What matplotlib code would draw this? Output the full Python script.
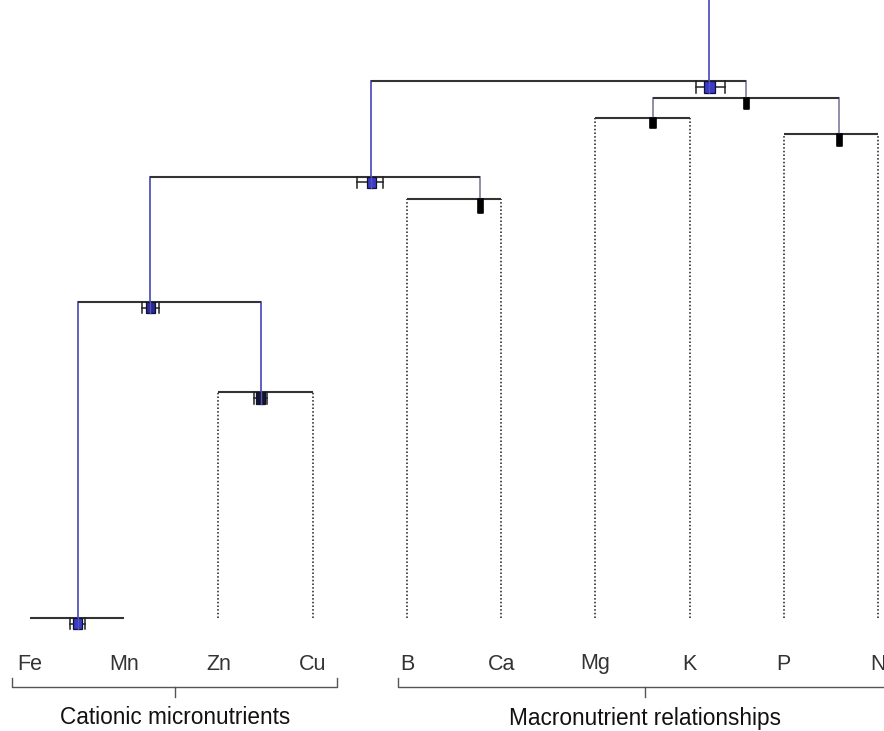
import numpy as np
import matplotlib
matplotlib.use("Agg")
import matplotlib.pyplot as plt
from matplotlib.patches import Rectangle

plt.rcParams["font.family"] = ["Liberation Sans", "DejaVu Sans"]

# Leaves of the nutrient dendrogram (left to right)
leaves = ["Fe", "Mn", "Zn", "Cu", "B", "Ca", "Mg", "K", "P", "N"]

# Merge table: children (leaf name or node id) and merge height
merge_left = ["Fe", "Zn", "n0", "B", "n2", "Mg", "P", "n5", "n4"]
merge_right = ["Mn", "Cu", "n1", "Ca", "n3", "K", "N", "n6", "n7"]
merge_height = [0.00, 2.26, 3.16, 4.19, 4.41, 5.00, 4.84, 5.20, 5.37]

# Resampled node position summaries (leaf-index units)
node_whislo = [0.425, 2.377, 1.189, 4.750, 3.471, 6.585, 8.560, 7.573, 7.069]
node_q1 = [0.456, 2.399, 1.231, 4.750, 3.577, 6.585, 8.560, 7.573, 7.154]
node_med = [0.509, 2.452, 1.274, 4.776, 3.619, 6.612, 8.586, 7.599, 7.207]
node_q3 = [0.552, 2.494, 1.327, 4.808, 3.672, 6.640, 8.615, 7.631, 7.271]
node_whishi = [0.584, 2.515, 1.369, 4.808, 3.747, 6.640, 8.615, 7.631, 7.377]

# Groups shown beneath the leaves
group_names = ["Cationic micronutrients", "Macronutrient relationships"]
group_start = [-0.19, 3.91]
group_end = [3.26, 9.15]

# Styling per node
BLUE_LINE = "#5454bc"
GREY_LINE = "#8686a6"
node_line = [BLUE_LINE, BLUE_LINE, BLUE_LINE, GREY_LINE, BLUE_LINE,
             GREY_LINE, GREY_LINE, GREY_LINE, BLUE_LINE]
node_fill = ["#3b3bc8", "#15152e", "#2a2a90", "#000000", "#3b3bc8",
             "#000000", "#000000", "#000000", "#3b3bc8"]
node_solid = [False, False, False, True, False, True, True, True, False]
node_depth = [0.11, 0.12, 0.11, 0.14, 0.11, 0.10, 0.12, 0.11, 0.12]

fig = plt.figure(figsize=(8.84, 7.31), dpi=100)
ax = fig.add_axes([0, 0, 1, 1])
px = 94.22
ax.set_xlim(-30 / px, (884 - 30) / px)
ax.set_ylim(-1.13, 6.18)
ax.axis("off")

leaf_x = {name: i for i, name in enumerate(leaves)}


def child_x(c):
    if c in leaf_x:
        return leaf_x[c]
    return node_med[int(c[1:])]


HLINE = "#333333"

# Leaf stems (dotted) up to their merge height
for i, (l, r) in enumerate(zip(merge_left, merge_right)):
    h = merge_height[i]
    for c in (l, r):
        if c in leaf_x and h > 0:
            ax.plot([leaf_x[c], leaf_x[c]], [0, h], color="#1a1a1a",
                    lw=1.1, ls=(0, (1.0, 1.4)), zorder=1)

# Node connectors: horizontal bars and vertical links to the parent
parent_of = {}
for i, (l, r) in enumerate(zip(merge_left, merge_right)):
    parent_of[l] = i
    parent_of[r] = i

for i, (l, r) in enumerate(zip(merge_left, merge_right)):
    h = merge_height[i]
    ax.plot([child_x(l), child_x(r)], [h, h], color=HLINE, lw=1.5,
            solid_capstyle="butt", zorder=2)
    nid = "n%d" % i
    top = merge_height[parent_of[nid]] if nid in parent_of else 6.3
    ax.plot([node_med[i], node_med[i]], [h, top], color=node_line[i],
            lw=1.3, zorder=2)

# Box summaries hanging beneath each node bar
for i in range(len(merge_height)):
    h = merge_height[i]
    d = node_depth[i]
    mid = h - d / 2
    if node_solid[i]:
        ax.add_patch(Rectangle((node_q1[i], h - d), node_q3[i] - node_q1[i], d,
                               facecolor="black", edgecolor="black",
                               lw=1.2, joinstyle="round", zorder=4))
        continue
    ax.plot([node_whislo[i], node_q1[i]], [mid, mid], color="#222222", lw=1.1, zorder=3)
    ax.plot([node_q3[i], node_whishi[i]], [mid, mid], color="#222222", lw=1.1, zorder=3)
    for w in (node_whislo[i], node_whishi[i]):
        ax.plot([w, w], [h - d, h], color="#222222", lw=1.1, zorder=3)
    ax.add_patch(Rectangle((node_q1[i], h - d), node_q3[i] - node_q1[i], d,
                           facecolor=node_fill[i], edgecolor="#101030",
                           lw=0.9, zorder=4))
    ax.plot([node_med[i], node_med[i]], [h - d, h], color=node_line[i],
            lw=1.0, zorder=5)

# Leaf labels
for i, name in enumerate(leaves):
    ax.text(i, -0.46, name, ha="center", va="center", fontsize=15.5,
            color="#333333")

# Group brackets and titles
BR = "#555555"
for name, a, b in zip(group_names, group_start, group_end):
    c = (a + b) / 2
    ax.plot([a, a, b, b], [-0.60, -0.69, -0.69, -0.60], color=BR, lw=1.0)
    ax.plot([c, c], [-0.69, -0.79], color=BR, lw=1.0)
    ax.text(c, -1.00, name, ha="center", va="center", fontsize=16.3,
            color="#111111")

fig.savefig("out.png", dpi=100)
